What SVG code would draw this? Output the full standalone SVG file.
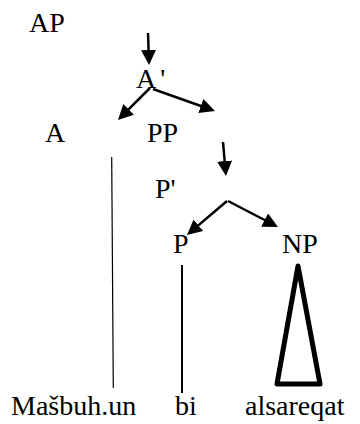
<svg xmlns="http://www.w3.org/2000/svg" width="360" height="424" viewBox="0 0 360 424">
<defs>
<marker id="ah" markerUnits="userSpaceOnUse" markerWidth="16" markerHeight="16" refX="7.5" refY="7.5" orient="auto" viewBox="0 0 16 16">
<path d="M0,0 L15,7.5 L0,15 z" fill="#000"/>
</marker>
</defs>
<rect width="360" height="424" fill="#fff"/>
<g id="AP"><text x="29" y="32" font-family="Times New Roman, Liberation Serif, serif" font-size="28">AP</text></g>
<g id="Abar"><text x="136" y="88" font-family="Times New Roman, Liberation Serif, serif" font-size="28">A<tspan dx="4">'</tspan></text></g>
<g id="A"><text x="45" y="142" font-family="Times New Roman, Liberation Serif, serif" font-size="28">A</text></g>
<g id="PP"><text x="147" y="142" font-family="Times New Roman, Liberation Serif, serif" font-size="28">PP</text></g>
<g id="Pbar"><text x="155" y="198" font-family="Times New Roman, Liberation Serif, serif" font-size="28">P'</text></g>
<g id="P"><text x="173" y="253" font-family="Times New Roman, Liberation Serif, serif" font-size="28">P</text></g>
<g id="NP"><text x="282" y="253" font-family="Times New Roman, Liberation Serif, serif" font-size="28">NP</text></g>
<g id="w1"><text x="11" y="415" font-family="Times New Roman, Liberation Serif, serif" font-size="28">Ma&#353;buh.un</text></g>
<g id="w2"><text x="175" y="415" font-family="Times New Roman, Liberation Serif, serif" font-size="28">bi</text></g>
<g id="w3"><text x="245" y="415" font-family="Times New Roman, Liberation Serif, serif" font-size="28">alsareqat</text></g>
<g id="connectors" stroke="#000" fill="none">
<g stroke-width="2.5" marker-end="url(#ah)">
<path d="M148,33 L148.8,57.5"/>
<path d="M150,88 L123.3,114.7"/>
<path d="M153,89 L207.9,108.5"/>
<path d="M223,142 L225.3,168.5"/>
<path d="M227,201 L192.7,230.1"/>
<path d="M228,201 L271.3,223.5"/>
</g>
<path d="M111.7,157 L113.3,388" stroke-width="1.2"/>
<path d="M182,265 L182,393" stroke-width="2"/>
<path d="M298,266 L277,384 L320,384 Z" stroke-width="5" stroke-linejoin="round"/>
</g>
</svg>
